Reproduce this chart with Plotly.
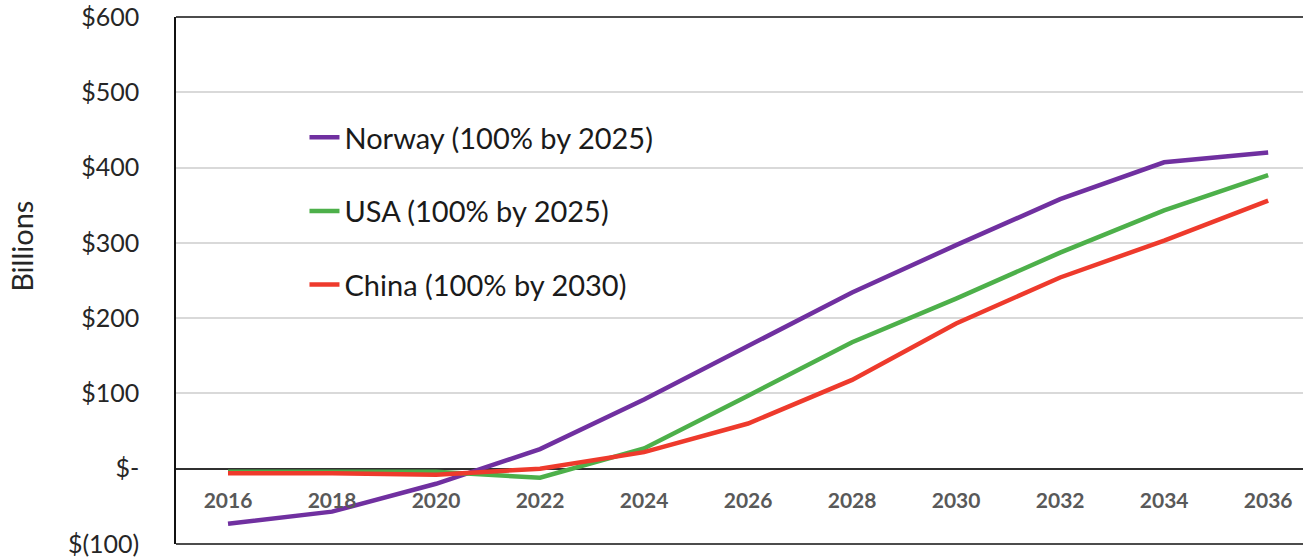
import plotly.graph_objects as go

years = [2016, 2018, 2020, 2022, 2024, 2026, 2028, 2030, 2032, 2034, 2036]
norway = [-73, -57, -20, 26, 92, 163, 234, 297, 358, 407, 420]
usa = [-4, -4, -4, -12, 27, 97, 168, 226, 287, 343, 390]
china = [-6, -6, -8, 0, 22, 60, 118, 193, 254, 303, 356]

series_names = ["Norway (100% by 2025)", "USA (100% by 2025)", "China (100% by 2030)"]
series_colors = ["#7030A0", "#4DB04A", "#EE3A2C"]

y_tickvals = [-100, 0, 100, 200, 300, 400, 500, 600]
y_ticktext = ["$(100)", "$-", "$100", "$200", "$300", "$400", "$500", "$600"]

FONT = "Lato"

fig = go.Figure()
for name, vals, col in zip(series_names, [norway, usa, china], series_colors):
    fig.add_trace(go.Scatter(
        x=years, y=vals, mode="lines", name=name, legendgroup=name,
        line=dict(color=col, width=4.5),
    ))

fig.update_layout(
    width=1303, height=557,
    margin=dict(l=176, r=0, t=17, b=13, autoexpand=False),
    paper_bgcolor="white", plot_bgcolor="white",
    font=dict(family=FONT, color="#222222"),
    showlegend=True,
    legend=dict(
        x=0.114, y=0.82, xanchor="left", yanchor="top",
        font=dict(family=FONT, size=29, color="#1a1a1a"),
        tracegroupgap=33, bgcolor="rgba(0,0,0,0)", borderwidth=0,
    ),
    xaxis=dict(
        range=[2015, 2036.67],
        tickvals=years, ticktext=[str(y) for y in years],
        showgrid=False, zeroline=False, showline=False, ticks="",
        tickfont=dict(family=FONT, size=21, color="#595959", weight="bold"),
        anchor="free", position=0.111, automargin=False,
    ),
    yaxis=dict(
        range=[-100, 600],
        tickvals=y_tickvals, ticktext=y_ticktext,
        showgrid=True, gridcolor="#D9D9D9", gridwidth=1.5,
        zeroline=True, zerolinecolor="#303030", zerolinewidth=2,
        showline=True, linecolor="#111111", linewidth=1.5,
        ticks="", ticklabelstandoff=30, automargin=False,
        ticklabeloverflow="allow",
        tickfont=dict(family=FONT, size=25, color="#262626"),
    ),
    annotations=[
        dict(text="Billions", xref="paper", yref="paper", x=-0.137, y=0.565,
             xanchor="center", yanchor="middle", textangle=-90, showarrow=False,
             font=dict(family=FONT, size=29, color="#262626")),
    ],
    shapes=[
        dict(type="line", xref="paper", yref="paper", x0=0, x1=1, y0=1, y1=1,
             line=dict(color="#111111", width=1.5)),
        dict(type="line", xref="paper", yref="paper", x0=0, x1=1, y0=0, y1=0,
             line=dict(color="#111111", width=1.5)),
    ],
)

fig.write_html("out.html", config={"displayModeBar": False},
               post_script="document.body.style.margin='0';")
